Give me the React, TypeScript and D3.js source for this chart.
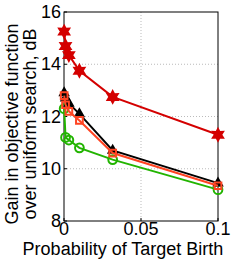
import * as d3 from "d3";
import { useEffect, useRef } from "react";

const probs = [0.0001, 0.001, 0.00316, 0.01, 0.0316, 0.1];
const greenVals = [12.3, 11.2, 11.1, 10.8, 10.35, 9.2];
const blackVals = [12.9, 12.7, 12.5, 12.1, 10.7, 9.45];
const orangeVals = [12.8, 12.45, 12.2, 11.85, 10.6, 9.35];
const redVals = [15.25, 14.7, 14.35, 13.75, 12.75, 11.3];
const xTicks = [0, 0.05, 0.1];
const yTicks = [8, 10, 12, 14, 16];

// six point star like matlab 'hexagram'
const hexagram = {
  draw(ctx: any, size: number) {
    const ro = Math.sqrt(size) * 0.75;
    const ri = ro * 0.55;
    for (let i = 0; i < 12; i++) {
      const a = (Math.PI / 6) * i - Math.PI / 2;
      const r = i % 2 === 0 ? ro : ri;
      if (i === 0) ctx.moveTo(r * Math.cos(a), r * Math.sin(a));
      else ctx.lineTo(r * Math.cos(a), r * Math.sin(a));
    }
    ctx.closePath();
  },
};

export default function App() {
  const ref = useRef<SVGSVGElement>(null);

  useEffect(() => {
    document.body.style.margin = "0";
    const svg = d3.select(ref.current);
    svg.selectAll("*").remove();

    const left = 64, right = 218, top = 12, bottom = 221;
    const x = d3.scaleLinear().domain([0, 0.1]).range([left, right]);
    const y = d3.scaleLinear().domain([8, 16]).range([bottom, top]);
    const font = "18px Liberation Sans, Arial, sans-serif";

    // grid
    svg.selectAll(".gx").data([0.05]).enter().append("line")
      .attr("x1", d => x(d)).attr("x2", d => x(d))
      .attr("y1", top).attr("y2", bottom)
      .attr("stroke", "#bbb").attr("stroke-dasharray", "1,2").attr("stroke-width", 1);
    svg.selectAll(".gy").data([10, 12, 14]).enter().append("line")
      .attr("x1", left).attr("x2", right)
      .attr("y1", d => y(d)).attr("y2", d => y(d))
      .attr("stroke", "#bbb").attr("stroke-dasharray", "1,2").attr("stroke-width", 1);

    // box
    svg.append("rect").attr("x", left).attr("y", top)
      .attr("width", right - left).attr("height", bottom - top)
      .attr("fill", "none").attr("stroke", "black").attr("stroke-width", 1);

    // ticks
    svg.selectAll(".tx").data(xTicks).enter().append("line")
      .attr("x1", d => x(d)).attr("x2", d => x(d))
      .attr("y1", bottom).attr("y2", bottom - 3).attr("stroke", "black");
    svg.selectAll(".ty").data(yTicks).enter().append("line")
      .attr("x1", left).attr("x2", left + 3)
      .attr("y1", d => y(d)).attr("y2", d => y(d)).attr("stroke", "black");

    svg.selectAll(".txl").data(xTicks).enter().append("text")
      .attr("x", d => x(d)).attr("y", 235)
      .attr("text-anchor", "middle")
      .style("font", font)
      .text(d => String(d));
    svg.selectAll(".tyl").data(yTicks).enter().append("text")
      .attr("x", left - 3).attr("y", d => y(d) + 6)
      .attr("text-anchor", "end")
      .style("font", font)
      .text(d => String(d));

    svg.append("text").attr("x", 123).attr("y", 255)
      .attr("text-anchor", "middle")
      .style("font", font)
      .text("Probability of Target Birth");

    const yl = svg.append("text").attr("transform", "translate(18,124) rotate(-90)")
      .attr("text-anchor", "middle").style("font", font);
    yl.append("tspan").attr("x", 0).attr("y", 0).text("Gain in objective function");
    yl.append("tspan").attr("x", 0).attr("y", 18).text("over uniform search, dB");

    const line = d3.line<number>().x((d, i) => x(probs[i])).y(d => y(d));

    const series = [
      { vals: greenVals, color: "#22b400", sym: d3.symbolCircle, size: 60, filled: false },
      { vals: blackVals, color: "#000000", sym: d3.symbolTriangle, size: 28, filled: true },
      { vals: orangeVals, color: "#ff4422", sym: d3.symbolSquare, size: 45, filled: false },
      { vals: redVals, color: "#d40000", sym: hexagram, size: 60, filled: true },
    ];

    series.forEach(s => {
      svg.append("path").datum(s.vals)
        .attr("d", line)
        .attr("fill", "none").attr("stroke", s.color).attr("stroke-width", 2);
      svg.selectAll(null).data(s.vals).enter().append("path")
        .attr("d", d3.symbol().type(s.sym as any).size(s.size))
        .attr("transform", (d, i) => "translate(" + x(probs[i]) + "," + y(d) + ")")
        .attr("fill", s.filled ? s.color : "none")
        .attr("stroke", s.color).attr("stroke-width", 2);
    });
  }, []);

  return <svg ref={ref} width={240} height={259} style={{ display: "block", background: "white" }} />;
}
